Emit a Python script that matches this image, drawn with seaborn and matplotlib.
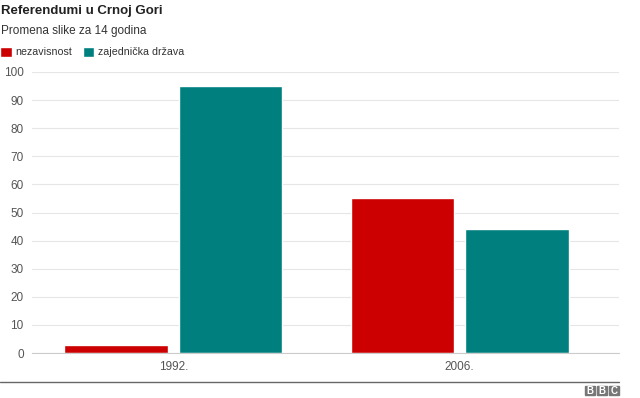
import numpy as np
import pandas as pd
import seaborn as sns
import matplotlib.pyplot as plt
from matplotlib.patches import Rectangle
from matplotlib.lines import Line2D

godine = ['1992.', '2006.']
opcije = ['nezavisnost', 'zajednička država']
nezavisnost = [3.0, 55.0]
zajednicka = [95.1, 44.0]
boje = ['#cc0000', '#007f7f']

data = pd.DataFrame({
    'godina': godine * 2,
    'opcija': [opcije[0]] * 2 + [opcije[1]] * 2,
    'procenat': nezavisnost + zajednicka,
})

sns.set_style('white')
plt.rcParams['font.family'] = ['Liberation Sans', 'DejaVu Sans']

fig = plt.figure(figsize=(6.4, 3.98), dpi=100)
ax = fig.add_axes([32/640, 1 - 353/398, 587/640, 281/398])
sns.barplot(data=data, x='godina', y='procenat', hue='opcija', palette=boje,
            width=0.8, gap=0.1, ax=ax, saturation=1, legend=True)

ax.set_ylim(0, 100)
# plot area runs a bit past the last category on the right
ax.set_xlim(-0.493, 1.556)
ax.set_yticks(range(0, 101, 10))
ax.set_xlabel('')
ax.set_ylabel('')
ax.grid(axis='y', color='#e6e6e6', linewidth=0.8)
ax.set_axisbelow(True)
for s in ['top', 'right', 'left']:
    ax.spines[s].set_visible(False)
ax.spines['bottom'].set_color('#cccccc')
ax.tick_params(axis='y', length=4, color='#e6e6e6', labelsize=8.5, labelcolor='#555555', pad=2)
ax.tick_params(axis='x', length=0, labelsize=8.5, labelcolor='#555555', pad=6)

handles, labels = ax.get_legend_handles_labels()
ax.legend(handles, labels, ncol=2, loc='center left', bbox_to_anchor=(0, 1 - 52/398),
          bbox_transform=fig.transFigure, frameon=False, fontsize=7.7,
          handlelength=1.1, handleheight=1.1, handletextpad=0.3, columnspacing=1.0,
          borderpad=0, borderaxespad=0, labelcolor='#333333')

fig.text(1/640, 1 - 11/398, 'Referendumi u Crnoj Gori', fontsize=9.5, fontweight='bold',
         color='#222222', va='center', ha='left')
fig.text(1/640, 1 - 31/398, 'Promena slike za 14 godina', fontsize=8.5,
         color='#333333', va='center', ha='left')

fig.add_artist(Line2D([0, 619/640], [1 - 382/398] * 2, color='#666666', linewidth=1))

for i, slovo in enumerate('BBC'):
    x0 = (585 + i * 12) / 640
    fig.add_artist(Rectangle((x0, 1 - 395/398), 10/640, 9.5/398, color='#777777'))
    fig.text(x0 + 5/640, 1 - 390.5/398, slovo, fontsize=7, fontweight='bold',
             color='white', ha='center', va='center')

fig.savefig('out.png', dpi=100)
